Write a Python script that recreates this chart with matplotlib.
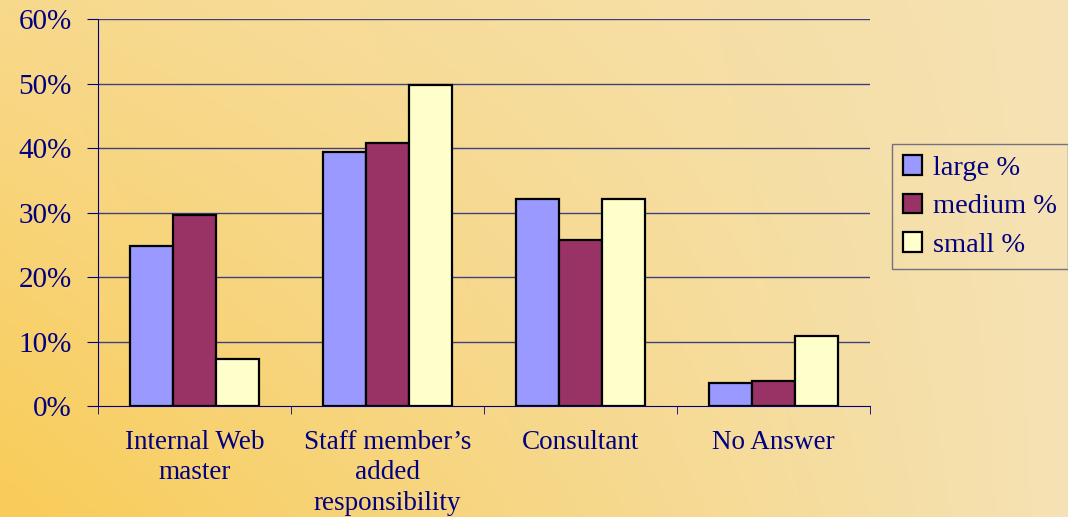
import matplotlib.pyplot as plt
import numpy as np
from matplotlib.patches import Patch

# data
categories = ['Internal Web\nmaster', 'Staff member\u2019s\nadded\nresponsibility', 'Consultant', 'No Answer']
series = ['large %', 'medium %', 'small %']
large = [24.8, 39.4, 32.1, 3.6]
medium = [29.6, 40.8, 25.7, 3.9]
small = [7.3, 49.8, 32.1, 10.9]
yticks = [0, 10, 20, 30, 40, 50, 60]

colors = ['#9999FF', '#993366', '#FFFFCC']
navy = '#000080'

plt.rcParams['font.family'] = ['Liberation Serif', 'DejaVu Serif']

fig = plt.figure(figsize=(10.68, 5.17), dpi=100)

# gradient background
bg = fig.add_axes([0, 0, 1, 1])
xx, yy = np.meshgrid(np.linspace(0, 1, 300), np.linspace(0, 1, 150))
left_bot = np.array([249, 204, 88]) / 255
left_top = np.array([248, 217, 140]) / 255
right = np.array([245, 226, 180]) / 255
t = xx[..., None]
left_col = left_bot * (1 - yy[..., None]) + left_top * yy[..., None]
img = left_col * (1 - t) + right * t
bg.imshow(img, origin='lower', extent=[0, 1, 0, 1], aspect='auto')
bg.axis('off')

ax = fig.add_axes([0.0918, 0.2147, 0.7228, 0.7485])
ax.patch.set_alpha(0)

x = np.arange(len(categories))
w = 0.223
for i, (vals, c) in enumerate(zip([large, medium, small], colors)):
    ax.bar(x + (i - 1) * w, vals, w, color=c, edgecolor='black', linewidth=1.6, zorder=3)

ax.set_xlim(-0.5, len(categories) - 0.5)
ax.set_ylim(0, 60)
ax.set_yticks(yticks)
ax.set_yticklabels([f'{v}%' for v in yticks], fontsize=21, color=navy)
for v in yticks[1:]:
    ax.axhline(v, color='#404080', linewidth=1.0, zorder=1)

ax.set_xticks(x)
ax.set_xticklabels(categories, fontsize=19.5, color=navy, linespacing=1.3)
ax.tick_params(axis='x', which='major', length=0, pad=17)
ax.set_xticks(np.arange(-0.5, len(categories)), minor=True)
ax.tick_params(axis='x', which='minor', length=6, color=navy, direction='out')
ax.tick_params(axis='y', length=8, color=navy, direction='out', pad=11)

ax.spines['top'].set_visible(False)
ax.spines['right'].set_visible(False)
ax.spines['left'].set_color(navy)
ax.spines['bottom'].set_color(navy)

handles = [Patch(facecolor=c, edgecolor='black', linewidth=1.6) for c in colors]
leg = fig.legend(handles, series, loc='upper left', bbox_to_anchor=(0.835, 0.721),
                 fontsize=20.5, frameon=True, fancybox=False, handlelength=0.68,
                 handleheight=0.68, handletextpad=0.4, labelspacing=0.45,
                 borderpad=0.38, borderaxespad=0)
leg.get_frame().set_edgecolor('#555577')
leg.get_frame().set_facecolor('none')
for txt in leg.get_texts():
    txt.set_color(navy)

fig.savefig('out.png', dpi=100)
